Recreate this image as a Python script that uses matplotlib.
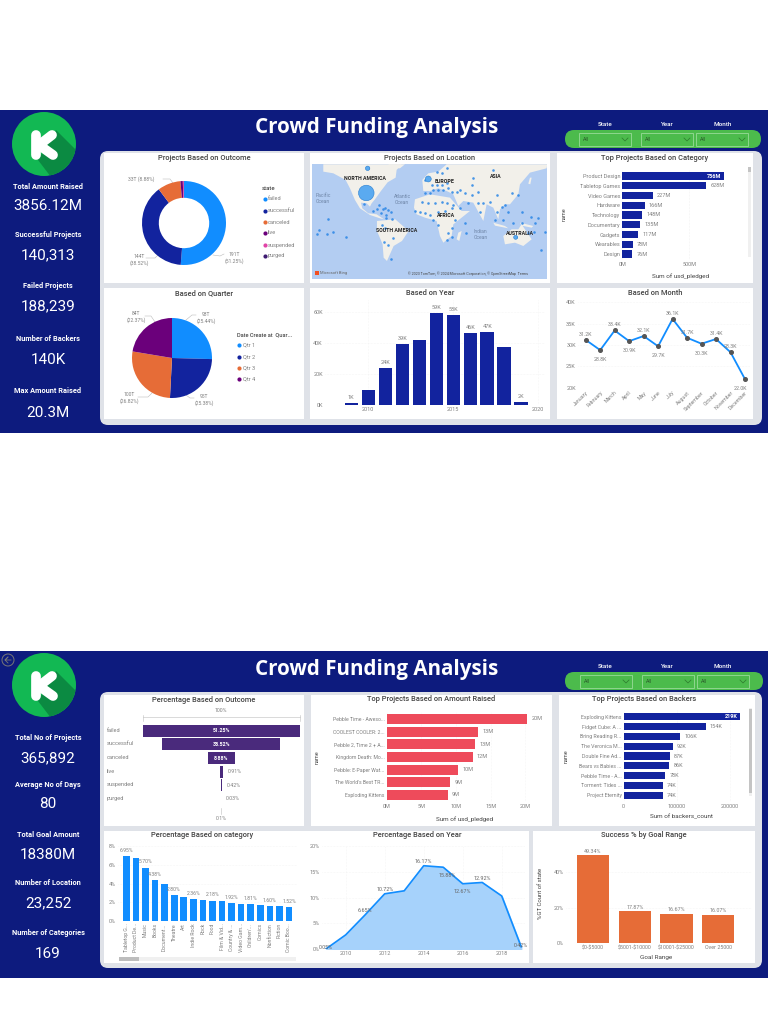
import matplotlib
matplotlib.use("Agg")
import matplotlib.pyplot as plt
from matplotlib.patches import FancyBboxPatch, Rectangle, Circle, Polygon

plt.rcParams['font.family'] = ['Roboto', 'DejaVu Sans']
plt.rcParams['text.parse_math'] = False

# colours
NAVY = '#0d1b7e'
BLUE = '#118DFF'
DARK_BLUE = '#12239E'
ORANGE = '#E66C37'
PURPLE = '#6B007B'
PINK = '#E044A7'
DARK_PURPLE = '#3f1c72'
FUNNEL = '#4a2a7c'
RED = '#EE4B5B'
GREY = '#808080'
TITLE = '#444444'

# page one data
kpi_top = [('Total Amount Raised', '3856.12M'), ('Successful Projects', '140,313'), ('Failed Projects', '188,239'),
           ('Number of Backers', '140K'), ('Max Amount Raised', '20.3M')]
outcome_names = ['failed', 'successful', 'canceled', 'live', 'suspended', 'purged']
outcome_pct = [51.25, 38.52, 8.88, 0.91, 0.42, 0.03]
quarter_names = ['Qtr 1', 'Qtr 2', 'Qtr 3', 'Qtr 4']
quarter_pct = [25.44, 25.38, 26.82, 22.37]
category_names = ['Product Design', 'Tabletop Games', 'Video Games', 'Hardware', 'Technology', 'Documentary',
                  'Gadgets', 'Wearables', 'Design']
category_pledged = [756, 628, 227, 166, 148, 135, 117, 78, 76]
years = [2009, 2010, 2011, 2012, 2013, 2014, 2015, 2016, 2017, 2018, 2019]
year_projects = [1.3, 9.8, 24, 39, 41.5, 59, 58, 46, 47, 37.5, 1.8]
year_labels = ['1K', '', '24K', '39K', '', '59K', '58K', '46K', '47K', '', '2K']
months = ['January', 'February', 'March', 'April', 'May', 'June', 'July', 'August', 'September', 'October',
          'November', 'December']
month_projects = [31.2, 28.8, 33.4, 30.9, 32.1, 29.7, 36.1, 31.7, 30.3, 31.4, 28.3, 22.0]

# map bubbles, in map units
map_x = [188, 178, 205, 215, 222, 240, 250, 258, 235, 228, 243, 70, 42, 37, 67, 85, 123, 230, 243, 262, 238, 265, 250,
         258, 240, 360, 395, 410, 425, 380, 395, 410, 425, 385, 400, 415, 430, 375, 360, 440, 455, 330, 345, 360, 375,
         385, 400, 420, 440, 350, 370, 390, 410, 425, 445, 465, 400, 440, 430, 440, 425, 450, 480, 483, 465, 480, 500,
         520, 500, 563, 505, 575, 620, 640, 600, 590, 575, 555, 535, 520, 490, 525, 570, 595, 610, 652, 625, 678, 700,
         650, 632, 670, 720, 688, 707, 690]
map_y = [190, 297, 318, 312, 300, 310, 315, 320, 312, 325, 330, 343, 375, 388, 388, 381, 397, 360, 340, 343, 410, 398,
         420, 463, 370, 226, 202, 203, 188, 240, 240, 240, 235, 255, 255, 255, 250, 265, 265, 262, 262, 317, 320, 325,
         330, 345, 320, 318, 310, 290, 295, 295, 290, 295, 300, 310, 360, 370, 385, 395, 405, 345, 355, 385, 255, 265,
         270, 260, 240, 195, 220, 270, 265, 270, 300, 305, 320, 290, 295, 295, 295, 320, 345, 345, 320, 322, 355, 335,
         338, 355, 397, 385, 380, 380, 435, 355]

# page two data
kpi_bottom = [('Total No of Projects', '365,892'), ('Average No of Days', '80'), ('Total Goal Amount', '18380M'),
              ('Number of Location', '23,252'), ('Number of Categories', '169')]
funnel_pct = [51.25, 38.52, 8.88, 0.91, 0.42, 0.03]
raised_names = ['Pebble Time - Aweso...', 'COOLEST COOLER: 2...', 'Pebble 2, Time 2 + A...', 'Kingdom Death: Mo...',
                'Pebble: E-Paper Wat...', "The World's Best TR...", 'Exploding Kittens']
raised_values = [20.3, 13.2, 12.8, 12.4, 10.3, 9.2, 8.8]
raised_labels = ['20M', '13M', '13M', '12M', '10M', '9M', '9M']
backers_names = ['Exploding Kittens', 'Fidget Cube: A ...', 'Bring Reading R...', 'The Veronica M...', 'Double Fine Ad...',
                 'Bears vs Babies ...', 'Pebble Time - A...', 'Torment: Tides ...', 'Project Eternity']
backers_values = [219, 154, 106, 92, 87, 86, 78, 74, 74]
pct_cat_names = ['Tabletop G...', 'Product De...', 'Music', 'Books', 'Document...', 'Theatre', 'Art', 'Indie Rock',
                 'Rock', 'Food', 'Film & Vid...', 'Country & ...', 'Video Gam...', "Children'...", 'Comics',
                 'Nonfiction', 'Fiction', 'Comic Boo...']
pct_cat_values = [6.95, 6.70, 5.70, 4.38, 3.98, 2.80, 2.60, 2.36, 2.25, 2.18, 2.13, 1.92, 1.85, 1.81, 1.70, 1.60, 1.57,
                  1.52]
pct_cat_labels = ['6.95%', '', '5.70%', '4.38%', '', '2.80%', '', '2.36%', '', '2.18%', '', '1.92%', '', '1.81%', '',
                  '1.60%', '', '1.52%']
pct_year_values = [0.05, 2.75, 6.65, 10.72, 11.3, 16.17, 15.88, 12.67, 12.92, 10.3, 0.42]
pct_year_labels = ['0.05%', '', '6.65%', '10.72%', '', '16.17%', '15.88%', '12.67%', '12.92%', '', '0.42%']
goal_names = ['$0-$5000', '$5001-$10000', '$10001-$25000', 'Over 25000']
goal_pct = [49.34, 17.87, 16.67, 16.07]


fig = plt.figure(figsize=(7.68, 10.24), dpi=100, facecolor='white')

# whole figure axes in pixels, the backgrounds and loose text live here
bg = fig.add_axes([0, 0, 1, 1])
bg.set_xlim(0, 768)
bg.set_ylim(1024, 0)
bg.axis('off')


def txt(x, y, s, size=4, color=GREY, ha='center', weight='normal', rot=0, zorder=6, family=None):
    bg.text(x, y, s, fontsize=size, color=color, ha=ha, va='center', fontweight=weight, rotation=rot, zorder=zorder,
            family=family)


def panel(x0, y0, x1, y1):
    bg.add_patch(Rectangle((x0, y0), x1 - x0, y1 - y0, fc='white', ec='none', zorder=2))


def cal_axes(x0, y0, x1, y1, x_cal, y_cal):
    # axes at a pixel rect, limits worked out from two known (value, pixel) pairs
    ax = fig.add_axes([x0 / 768, 1 - y1 / 1024, (x1 - x0) / 768, (y1 - y0) / 1024])
    xs = (x_cal[2] - x_cal[0]) / (x_cal[3] - x_cal[1])
    ys = (y_cal[2] - y_cal[0]) / (y_cal[3] - y_cal[1])
    ax.set_xlim(x_cal[0] + (x0 - x_cal[1]) * xs, x_cal[0] + (x1 - x_cal[1]) * xs)
    ax.set_ylim(y_cal[0] + (y1 - y_cal[1]) * ys, y_cal[0] + (y0 - y_cal[1]) * ys)
    ax.patch.set_alpha(0)
    for s in ax.spines.values():
        s.set_visible(False)
    ax.tick_params(length=0, labelsize=4, labelcolor=GREY, pad=1.5)
    ax.set_axisbelow(True)
    return ax


def logo(cx, cy):
    circle = Circle((cx, cy), 32, fc='#12b853', ec='none', zorder=3)
    bg.add_patch(circle)
    shadow = Polygon([(cx - 6, cy + 16), (cx + 12, cy - 14), (cx + 50, cy + 24), (cx + 20, cy + 50)],
                     fc='#0b8a42', ec='none', zorder=3)
    bg.add_patch(shadow)
    shadow.set_clip_path(circle)
    bg.plot([cx - 8, cx - 8], [cy - 9, cy + 11], color='white', lw=7, solid_capstyle='round', zorder=4)
    bg.plot([cx + 8, cx - 5, cx + 9], [cy - 9, cy + 1, cy + 11], color='white', lw=7, solid_capstyle='round',
            solid_joinstyle='round', zorder=4)


def slicers(pill_x0, pill_x1, pill_y, label_y, boxes):
    bg.add_patch(FancyBboxPatch((pill_x0 + 9, pill_y + 9), pill_x1 - pill_x0 - 18, 0, boxstyle='round,pad=9',
                                fc='#4cbb4c', ec='none', zorder=3))
    for name, box_x, label_x in zip(['State', 'Year', 'Month'], boxes, [605, 667, 723]):
        bg.add_patch(Rectangle((box_x, pill_y + 3), 52, 13, fc='none', ec='#8fd68f', lw=0.7, zorder=4))
        txt(box_x + 4, pill_y + 9.5, 'All', 4, '#2c5e2c', ha='left')
        bg.plot([box_x + 43, box_x + 46, box_x + 49], [pill_y + 8, pill_y + 11, pill_y + 8], color='#2c7a2c', lw=0.5,
                zorder=5)
        txt(label_x, label_y, name, 4.5, 'white', weight='medium')


def hbar_labels(ax, values, labels, color, inside_first=True, gap=3):
    for i, (v, s) in enumerate(zip(values, labels)):
        if i == 0 and inside_first:
            ax.annotate(s, (v, i), xytext=(-2, 0), textcoords='offset points', ha='right', va='center', fontsize=4,
                        color='white', fontweight='bold')
        else:
            ax.annotate(s, (v, i), xytext=(gap, 0), textcoords='offset points', ha='left', va='center', fontsize=4,
                        color=color)


# page one frame
bg.add_patch(Rectangle((0, 110), 768, 323, fc=NAVY, ec='none', zorder=1))
bg.add_patch(FancyBboxPatch((108, 159), 646, 258, boxstyle='round,pad=8', fc='#dfe2e8', ec='none', zorder=1.5))
for p in [(104, 153, 304, 283), (310, 153, 550, 283), (557, 153, 753, 283),
          (104, 288, 304, 419), (310, 288, 550, 419), (557, 288, 753, 419)]:
    panel(*p)
logo(44, 144)
txt(377, 128, 'Crowd Funding Analysis', 14.8, 'white', weight='bold', family='Open Sans')
slicers(565, 761, 130, 125, [579, 641, 696])
for (name, value), yt, yv in zip(kpi_top, [187, 235, 286, 339, 391], [206, 255, 306, 360, 413]):
    txt(48, yt, name, 5.3, 'white', weight='bold')
    txt(48, yv, value, 11, 'white')

for t, x, y in [('Projects Based on Outcome', 204, 158), ('Projects Based on Location', 430, 158.5),
                ('Top Projects Based on Category', 655, 158), ('Based on Quarter', 204, 293),
                ('Based on Year', 430, 293), ('Based on Month', 655, 293)]:
    txt(x, y, t, 5.4, TITLE, weight='medium')

# donut, clockwise from the top
ax = cal_axes(142, 181, 226, 265, (-1, 142, 1, 226), (-1, 265, 1, 181))
ax.pie(outcome_pct, colors=[BLUE, DARK_BLUE, ORANGE, PURPLE, PINK, DARK_PURPLE], startangle=90, counterclock=False,
       radius=1, wedgeprops={'width': 0.4})
ax.set_xlim(-1, 1)
ax.set_ylim(-1, 1)
txt(234, 258, '191T\n(51.25%)', 3.6)
txt(139, 260, '144T\n(38.52%)', 3.6)
txt(141, 179, '33T (8.88%)', 3.6)
bg.plot([213, 220, 224], [255, 256, 254], color='#bbbbbb', lw=0.4, zorder=3)
bg.plot([146, 155, 158], [258, 258, 255], color='#bbbbbb', lw=0.4, zorder=3)
bg.plot([163, 170, 173], [179, 179, 183], color='#bbbbbb', lw=0.4, zorder=3)
txt(262, 189, 'state', 4.3, '#444444', ha='left', weight='medium')
for name, c, y in zip(outcome_names, [BLUE, DARK_BLUE, ORANGE, PURPLE, PINK, DARK_PURPLE], [199, 210.5, 222, 233, 245, 256]):
    bg.scatter([265], [y], s=9, color=c, zorder=5, linewidths=0)
    txt(268, y, name, 4.1, ha='left')

# quarter pie
ax = cal_axes(132, 318, 212, 398, (-1, 132, 1, 212), (-1, 398, 1, 318))
ax.pie(quarter_pct, colors=[BLUE, DARK_BLUE, ORANGE, PURPLE], startangle=90, counterclock=False, radius=1)
ax.set_xlim(-1, 1)
ax.set_ylim(-1, 1)
txt(206, 318, '93T\n(25.44%)', 3.6)
txt(204, 400, '95T\n(25.38%)', 3.6)
txt(129, 398, '100T\n(26.82%)', 3.6)
txt(136, 317, '84T\n(22.37%)', 3.6)
bg.plot([186, 192, 196], [320, 315, 315], color='#bbbbbb', lw=0.4, zorder=3)
bg.plot([186, 190, 194], [395, 398, 398], color='#bbbbbb', lw=0.4, zorder=3)
bg.plot([138, 148, 152], [397, 397, 393], color='#bbbbbb', lw=0.4, zorder=3)
bg.plot([145, 151, 155], [316, 316, 322], color='#bbbbbb', lw=0.4, zorder=3)
txt(237, 335, 'Date Create at  Quar...', 4.1, '#444444', ha='left', weight='medium')
for name, c, y in zip(quarter_names, [BLUE, DARK_BLUE, ORANGE, PURPLE], [345, 357, 368, 379]):
    bg.scatter([239], [y], s=9, color=c, zorder=5, linewidths=0)
    txt(243, y, name, 4.1, ha='left')

# map, rough land shapes in the same units as the bubbles
ax = cal_axes(312.3, 164.3, 547.3, 279, (22, 312.3, 727, 547.3), (522, 279, 178, 164.3))
ax.set_xticks([])
ax.set_yticks([])
ax.patch.set_alpha(1)
ax.patch.set_facecolor('#b3cdf2')
land = [
    [(55, 178), (290, 178), (275, 195), (272, 218), (248, 232), (228, 258), (210, 283), (200, 295), (195, 305),
     (185, 295), (168, 293), (172, 310), (190, 325), (215, 328), (237, 343), (225, 340), (195, 330), (165, 310),
     (150, 285), (135, 250), (122, 225), (85, 205), (55, 200)],
    [(250, 178), (300, 178), (285, 190), (260, 190)],
    [(216, 348), (271, 343), (311, 378), (291, 408), (266, 423), (246, 468), (236, 458), (233, 418), (216, 378)],
    [(330, 283), (375, 268), (435, 278), (470, 318), (495, 318), (445, 358), (440, 393), (415, 413), (405, 393),
     (395, 348), (360, 338), (335, 328), (327, 308)],
    [(352, 225), (370, 205), (400, 200), (425, 178), (727, 178), (725, 190), (675, 203), (645, 238), (640, 268),
     (615, 298), (600, 298), (585, 313), (580, 343), (565, 308), (545, 298), (535, 348), (505, 293), (475, 288),
     (460, 303), (445, 268), (425, 258), (400, 250), (375, 258), (355, 258)],
    [(595, 393), (620, 373), (640, 373), (650, 358), (670, 388), (680, 403), (655, 423), (630, 413), (600, 418)],
    [(460, 383), (470, 378), (463, 408), (455, 403)],
    [(565, 353), (600, 363), (610, 370), (570, 362)],
    [(645, 353), (685, 363), (680, 368), (650, 362)],
    [(680, 218), (676, 238), (670, 236), (675, 218)],
]
for shape in land:
    ax.add_patch(Polygon(shape, fc='#f2f0ea', ec='none'))
ax.scatter(map_x, map_y, s=3.5, color='#2a86e6', alpha=0.85, linewidths=0)
ax.scatter([184, 370, 188, 632], [264, 222, 190, 397], s=[125, 18, 10, 8], color='#5aaaf0', edgecolors='#2a7fd0',
           linewidths=0.4, zorder=3)
for s, x, y in [('NORTH AMERICA', 180, 221), ('EUROPE', 420, 229), ('ASIA', 573, 216), ('AFRICA', 422, 333),
                ('SOUTH AMERICA', 276, 376), ('AUSTRALIA', 645, 387)]:
    ax.text(x, y, s, fontsize=3.8, color='#222222', ha='center', va='center', fontweight='bold', zorder=4)
for s, x, y in [('Pacific\nOcean', 55, 280), ('Atlantic\nOcean', 292, 283), ('Indian\nOcean', 527, 388)]:
    ax.text(x, y, s, fontsize=3.6, color='#6f86a8', ha='center', va='center', zorder=4)
ax.text(490, 505, '© 2023 TomTom, © 2024 Microsoft Corporation, © OpenStreetMap  Terms', fontsize=2.6, color='#444444',
        ha='center', va='center')
ax.text(46, 503, 'Microsoft Bing', fontsize=3, color='#666666', ha='left', va='center')
ax.scatter([36], [503], s=7, marker='s', color='#f25022', linewidths=0)

# projects per year
ax = cal_axes(325, 300, 545, 405, (2010, 368.3, 2020, 538.3), (0, 405, 60, 311.7))
ax.bar(years, year_projects, width=0.8, color=DARK_BLUE)
ax.set_xticks([2010, 2015, 2020])
ax.set_yticks([0, 20, 40, 60])
ax.set_yticklabels(['0K', '20K', '40K', '60K'])
ax.grid(True, color='#eeeeee', lw=0.4, ls=':')
for x, v, s in zip(years, year_projects, year_labels):
    ax.annotate(s, (x, v), xytext=(0, 3), textcoords='offset points', ha='center', fontsize=4, color=GREY)

# top categories
ax = cal_axes(622.3, 170, 748, 260, (0, 622.3, 500, 689.3), (0, 176, 8, 254))
ax.barh(range(len(category_names)), category_pledged, height=0.72, color=DARK_BLUE)
ax.set_yticks(range(len(category_names)))
ax.set_yticklabels(category_names)
ax.set_xticks([0, 500])
ax.set_xticklabels(['0M', '500M'])
ax.grid(True, axis='x', color='#e8e8e8', lw=0.4, ls=':')
hbar_labels(ax, category_pledged, [f'{v}M' for v in category_pledged], GREY)
txt(564, 214, 'name', 4, '#444444', rot=90)
txt(681, 276, 'Sum of usd_pledged', 4.6, '#444444')
bg.add_patch(Rectangle((748, 167), 3, 90, fc='#f0f0f0', ec='none', zorder=3))
bg.add_patch(Rectangle((748, 167), 3, 5, fc='#c4c4c4', ec='none', zorder=3))

# projects per month
ax = cal_axes(578, 298, 750, 388, (0, 585.7, 11, 745), (20, 387.7, 40, 302.3))
ax.plot(range(12), month_projects, color=BLUE, lw=1.3, marker='o', ms=2.6, mfc='#555555', mec='#555555')
ax.set_xticks(range(12))
ax.set_xticklabels(months, rotation=45, ha='right', rotation_mode='anchor', fontsize=3.8)
ax.set_yticks([20, 25, 30, 35, 40])
ax.set_yticklabels(['20K', '25K', '30K', '35K', '40K'])
ax.grid(True, axis='y', color='#eeeeee', lw=0.4, ls=':')
for i, v in enumerate(month_projects):
    # labels sit above peaks and below dips, as in the dashboard
    dy = -8 if i in (1, 3, 5, 8, 11) else 3
    ax.annotate(f'{v:.1f}K', (i, v), xytext=(-3 if i == 11 else 0, dy), textcoords='offset points', ha='center',
                fontsize=3.8, color=GREY, annotation_clip=False)

# page two frame
bg.add_patch(Rectangle((0, 651), 768, 327, fc=NAVY, ec='none', zorder=1))
bg.add_patch(FancyBboxPatch((108, 700), 646, 260, boxstyle='round,pad=8', fc='#dfe2e8', ec='none', zorder=1.5))
for p in [(104, 695, 304, 826), (311, 695, 552, 826), (559, 695, 755, 826),
          (104, 831, 304, 963), (304, 831, 529, 963), (533, 831, 755, 963)]:
    panel(*p)
logo(44, 685)
bg.add_patch(Circle((8, 660), 6, fc='none', ec='#777777', lw=0.7, zorder=4))
bg.plot([11, 5, 8, 5, 8], [660, 660, 657, 660, 663], color='#777777', lw=0.6, zorder=4)
txt(377, 669, 'Crowd Funding Analysis', 14.8, 'white', weight='bold', family='Open Sans')
slicers(565, 763, 672, 666, [580, 642, 697])
for (name, value), yt, yv in zip(kpi_bottom, [738, 785, 835, 883, 933], [758, 804, 855, 903, 954]):
    txt(48, yt, name, 5.3, 'white', weight='bold')
    txt(48, yv, value, 11, 'white')

for t, x, y in [('Percentage Based on Outcome', 204, 700), ('Top Projects Based on Amount Raised', 431, 699),
                ('Top Projects Based on Backers', 644, 699), ('Percentage Based on category', 202, 835),
                ('Percentage Based on Year', 417, 835), ('Success % by Goal Range', 644, 835)]:
    txt(x, y, t, 5.4, TITLE, weight='medium')

# funnel, bars centred on zero and scaled to the first stage
ax = cal_axes(142.7, 724, 299.7, 818, (-51.25 / 2, 142.7, 51.25 / 2, 299.7), (0, 730.7, 5, 799))
ax.barh(range(6), funnel_pct, left=[-v / 2 for v in funnel_pct], height=0.86, color=FUNNEL)
ax.set_xticks([])
ax.set_yticks([])
for i, (v, name) in enumerate(zip(funnel_pct, outcome_names)):
    bg_y = 730.7 + i * 13.67
    txt(107, bg_y - 0.5, name, 4.1, ha='left')
    if v > 5:
        ax.text(0, i, f'{v:.2f}%', fontsize=3.8, color='white', ha='center', va='center', fontweight='bold')
    else:
        ax.annotate(f'{v:.2f}%', (v / 2, i), xytext=(3.5, 0), textcoords='offset points', ha='left', va='center',
                    fontsize=3.8, color=GREY)
txt(221, 711, '100%', 3.8)
txt(221, 819, '0.1%', 3.8)
bg.plot([143, 300], [717, 717], color='#bdbdbd', lw=0.4, zorder=3)
bg.plot([143, 143], [715, 721], color='#bdbdbd', lw=0.4, zorder=3)
bg.plot([300, 300], [715, 721], color='#bdbdbd', lw=0.4, zorder=3)
bg.plot([221, 221], [808, 814], color='#bdbdbd', lw=0.4, zorder=3)

# amount raised
ax = cal_axes(386.7, 712, 548, 802, (0, 386.7, 20, 525.3), (0, 719, 6, 795))
ax.barh(range(len(raised_names)), raised_values, height=0.8, color=RED)
ax.set_yticks(range(len(raised_names)))
ax.set_yticklabels(raised_names, fontsize=3.7)
ax.set_xticks([0, 5, 10, 15, 20])
ax.set_xticklabels(['0M', '5M', '10M', '15M', '20M'])
ax.grid(True, axis='x', color='#eeeeee', lw=0.4, ls=':')
hbar_labels(ax, raised_values, raised_labels, GREY, inside_first=False)
txt(317, 757, 'name', 4, '#444444', rot=90)
txt(465, 819, 'Sum of usd_pledged', 4.6, '#444444')

# backers
ax = cal_axes(623.7, 710, 748, 802, (0, 623.7, 200, 730.1), (0, 716.7, 8, 795.3))
ax.barh(range(len(backers_names)), backers_values, height=0.72, color=DARK_BLUE)
ax.set_yticks(range(len(backers_names)))
ax.set_yticklabels(backers_names, fontsize=3.8)
ax.set_xticks([0, 100, 200])
ax.set_xticklabels(['0', '100000', '200000'])
ax.grid(True, axis='x', color='#eeeeee', lw=0.4, ls=':')
hbar_labels(ax, backers_values, [f'{v}K' for v in backers_values], GREY)
txt(566, 756, 'name', 4, '#444444', rot=90)
txt(682, 817, 'Sum of backers_count', 4.6, '#444444')
bg.add_patch(Rectangle((749, 708), 3, 88, fc='#f0f0f0', ec='none', zorder=3))
bg.add_patch(Rectangle((749, 709), 3, 84, fc='#c4c4c4', ec='none', zorder=3))

# percentage per category
ax = cal_axes(118, 846, 297, 921, (0, 126.3, 17, 289), (0, 921, 8, 846))
ax.bar(range(len(pct_cat_names)), pct_cat_values, width=0.7, color=BLUE)
ax.set_xticks(range(len(pct_cat_names)))
ax.set_xticklabels(pct_cat_names, rotation=90, fontsize=3.7)
ax.set_yticks([0, 2, 4, 6, 8])
ax.set_yticklabels(['0%', '2%', '4%', '6%', '8%'])
ax.grid(True, axis='y', color='#eeeeee', lw=0.4, ls=':')
for i, (v, s) in enumerate(zip(pct_cat_values, pct_cat_labels)):
    ax.annotate(s, (i, v), xytext=(0, 3), textcoords='offset points', ha='center', fontsize=3.7, color=GREY)
bg.add_patch(Rectangle((119, 957), 177, 3.5, fc='#f0f0f0', ec='none', zorder=3))
bg.add_patch(Rectangle((119, 957), 20, 3.5, fc='#bdbdbd', ec='none', zorder=3))

# percentage per year
ax = cal_axes(322, 846, 525, 949, (2010, 345.7, 2018, 501.7), (0, 949, 20, 846))
ax.fill_between(years, pct_year_values, color='#a6d2fb')
ax.plot(years, pct_year_values, color=BLUE, lw=1.2)
ax.set_xticks([2010, 2012, 2014, 2016, 2018])
ax.set_yticks([0, 5, 10, 15, 20])
ax.set_yticklabels(['0%', '5%', '10%', '15%', '20%'])
ax.grid(True, color='#eeeeee', lw=0.4, ls=':')
for x, v, s in zip(years, pct_year_values, pct_year_labels):
    dy = -7 if s in ('12.67%', '15.88%') else 2
    if s in ('0.05%', '0.42%'):
        dy = 0
    ax.annotate(s, (x, v), xytext=(3 if s == '15.88%' else 0, dy), textcoords='offset points', ha='center', fontsize=3.9,
                color='#666666')

# success by goal range
ax = cal_axes(566, 845, 752, 943.3, (0, 593, 3, 718.3), (0, 943.3, 40, 872))
ax.bar(range(4), goal_pct, width=0.77, color=ORANGE)
ax.set_xticks(range(4))
ax.set_xticklabels(goal_names, fontsize=3.9)
ax.set_yticks([0, 20, 40])
ax.set_yticklabels(['0%', '20%', '40%'])
ax.grid(True, axis='y', color='#eeeeee', lw=0.4, ls=':')
for i, v in enumerate(goal_pct):
    ax.annotate(f'{v:.2f}%', (i, v), xytext=(0, 2), textcoords='offset points', ha='center', fontsize=3.9, color=GREY)
txt(656, 957, 'Goal Range', 4.6, '#444444')
txt(540, 893, '%GT Count of state', 4.3, '#444444', rot=90)

fig.savefig('out.png', dpi=100)
